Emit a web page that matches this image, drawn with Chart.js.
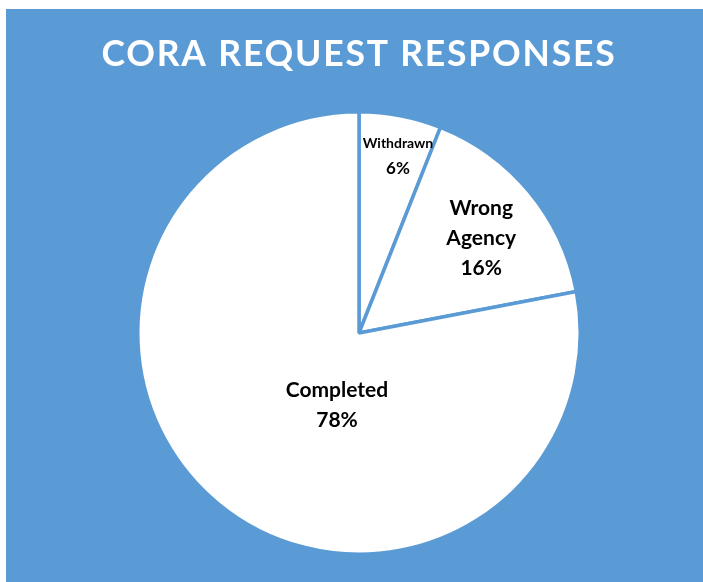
<!DOCTYPE html>
<html>
<head>
<meta charset="utf-8">
<style>
  html, body { margin: 0; padding: 0; background: #ffffff; }
  #wrap { width: 703px; height: 582px; position: relative; }
</style>
<script src="https://cdn.jsdelivr.net/npm/chart.js@4/dist/chart.umd.min.js"></script>
</head>
<body>
<div id="wrap"><canvas id="c" width="703" height="582"></canvas></div>
<script>
const chartTitle = "CORA REQUEST RESPONSES";
const categories = ["Withdrawn", "Wrong Agency", "Completed"];
const values = [6, 16, 78];
const valueLabels = ["6%", "16%", "78%"];

const BLUE = "#5B9BD5";

// label placement styles: radial fraction of radius, angle offset (deg), font sizes, line gap, name line split
const labelStyles = [
  { r: 0.82, da: 1.6, nameSize: 14, valSize: 17, gap: 25, lines: ["Withdrawn"] },
  { r: 0.70, da: 1.7, nameSize: 21, valSize: 21, gap: 30, lines: ["Wrong", "Agency"] },
  { r: 0.34, da: -22.6, nameSize: 21, valSize: 21, gap: 30, lines: ["Completed"] }
];

const bgPlugin = {
  id: "bgPanel",
  beforeDraw(chart) {
    const ctx = chart.ctx;
    ctx.save();
    ctx.fillStyle = "#ffffff";
    ctx.fillRect(0, 0, chart.width, chart.height);
    ctx.fillStyle = BLUE;
    ctx.fillRect(6, 9, chart.width - 6, chart.height - 9);
    ctx.fillStyle = "#ffffff";
    ctx.font = "bold 35.5px Lato, 'Open Sans', sans-serif";
    ctx.textAlign = "center";
    ctx.textBaseline = "middle";
    if ("letterSpacing" in ctx) ctx.letterSpacing = "1.8px";
    ctx.fillText(chartTitle, 359, 55);
    ctx.restore();
  }
};

const labelPlugin = {
  id: "sliceLabels",
  afterDatasetsDraw(chart) {
    const ctx = chart.ctx;
    const meta = chart.getDatasetMeta(0);
    ctx.save();
    ctx.fillStyle = "#000000";
    ctx.textAlign = "center";
    ctx.textBaseline = "middle";
    meta.data.forEach((arc, i) => {
      const p = arc.getProps(["x", "y", "startAngle", "endAngle", "outerRadius"], true);
      const st = labelStyles[i];
      const mid = (p.startAngle + p.endAngle) / 2 + st.da * Math.PI / 180;
      const cx = p.x + Math.cos(mid) * p.outerRadius * st.r;
      const cy = p.y + Math.sin(mid) * p.outerRadius * st.r;
      const lines = st.lines.map(t => ({ t, s: st.nameSize })).concat([{ t: valueLabels[i], s: st.valSize }]);
      const n = lines.length;
      lines.forEach((l, k) => {
        ctx.font = "bold " + l.s + "px Lato, 'Open Sans', sans-serif";
        ctx.fillText(l.t, cx, cy + (k - (n - 1) / 2) * st.gap);
      });
    });
    ctx.restore();
  }
};

new Chart(document.getElementById("c"), {
  type: "pie",
  data: {
    labels: categories,
    datasets: [{
      data: values,
      backgroundColor: "#ffffff",
      borderColor: BLUE,
      borderWidth: 3.5,
      hoverOffset: 0
    }]
  },
  options: {
    responsive: false,
    animation: false,
    devicePixelRatio: 1,
    layout: { padding: { top: 110, bottom: 26, left: 136, right: 121 } },
    plugins: {
      legend: { display: false },
      title: { display: false },
      tooltip: { enabled: false }
    }
  },
  plugins: [bgPlugin, labelPlugin]
});
</script>
</body>
</html>
